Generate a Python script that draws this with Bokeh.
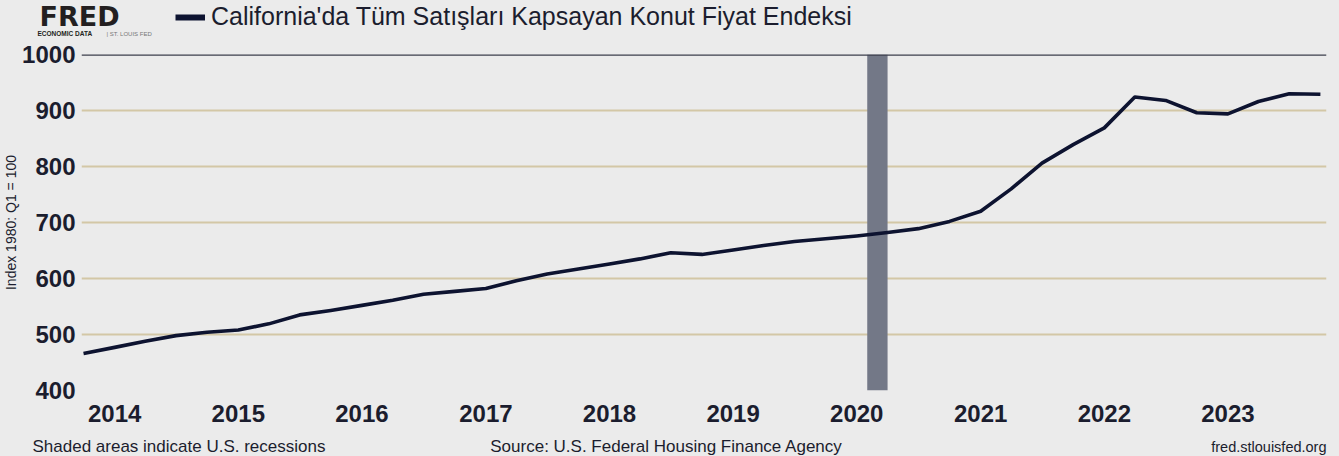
import pandas as pd
from bokeh.plotting import figure
from bokeh.layouts import column
from bokeh.models import (Range1d, FixedTicker, DatetimeTickFormatter, BoxAnnotation,
                          Span, Legend, LegendItem, ColumnDataSource)
from bokeh.core.properties import value
from bokeh.embed import file_html
from bokeh.resources import INLINE

# ---------------- data ----------------
quarters = pd.date_range("2013-10-01", "2023-10-01", freq="QS")
hpi = [466, 477, 488, 498, 504, 508, 519, 535, 543, 552,
       561, 572, 577, 582, 596, 608, 617, 626, 635, 646,
       643, 651, 659, 666, 671, 676, 682, 689, 702, 720,
       760, 806, 839, 869, 924, 918, 896, 894, 916, 930, 929]
year_ticks = [2014, 2015, 2016, 2017, 2018, 2019, 2020, 2021, 2022, 2023]
y_ticks = [400, 500, 600, 700, 800, 900, 1000]
recession_start = ["2020-02-01"]
recession_end = ["2020-04-01"]

series_name = "California'da Tüm Satışları Kapsayan Konut Fiyat Endeksi"
y_label = "Index 1980: Q1 = 100"
note_left = "Shaded areas indicate U.S. recessions"
note_mid = "Source: U.S. Federal Housing Finance Agency"
note_right = "fred.stlouisfed.org"

# ---------------- styles ----------------
BG = "#ebebeb"
LINE = "#0d1330"
TXT = "#1b1d2e"
FONT = "Liberation Sans"
W = 1339
HEAD_H, MAIN_H, FOOT_H = 40, 392, 24


def ms(s):
    return pd.Timestamp(s).value / 1e6


def text_panel(h):
    f = figure(width=W, height=h, output_backend="svg", toolbar_location=None, title=None,
               x_range=Range1d(0, W), y_range=Range1d(h, 0),
               x_axis_location=None, y_axis_location=None,
               min_border_left=0, min_border_right=0, min_border_top=0, min_border_bottom=0,
               background_fill_color=BG, border_fill_color=BG)
    f.outline_line_color = None
    f.grid.visible = False
    f.frame_align = False
    return f


def put(f, text, x, y, size, color=TXT, align="left", style="normal", font=FONT):
    f.text(x=[x], y=[y], text=[text], text_font=value(font), text_font_size=size,
           text_color=color, text_align=align, text_font_style=style,
           text_baseline="alphabetic")


# ---------------- header ----------------
head = text_panel(HEAD_H)
put(head, "FRED", 39, 16, "27px", color="#231f20", style="bold", font="DejaVu Sans")
put(head, "ECONOMIC DATA", 37, 33, "6.5px", color="#231f20", style="bold")
put(head, "|   ST. LOUIS FED", 106, 33, "6px", color="#777777")
dummy = head.line(x=[float("nan")], y=[float("nan")], line_color=LINE, line_width=6)
legend = Legend(items=[LegendItem(label=series_name, renderers=[dummy])],
                location=(175, 9), orientation="horizontal",
                padding=0, margin=0, spacing=0, glyph_width=30, glyph_height=20,
                label_standoff=6, label_text_font=FONT, label_text_font_size="25px",
                label_text_color=TXT, border_line_alpha=0, background_fill_alpha=0)
head.add_layout(legend)

# ---------------- main chart ----------------
p = figure(width=W, height=MAIN_H, output_backend="svg", toolbar_location=None, title=None,
           x_axis_type="datetime",
           x_range=Range1d(ms("2013-09-25"), ms("2023-10-19")),
           y_range=Range1d(400, 1000),
           min_border_left=78, min_border_right=13, min_border_top=14, min_border_bottom=42,
           background_fill_color=BG, border_fill_color=BG)
p.outline_line_color = None
p.frame_align = False

for s, e in zip(recession_start, recession_end):
    p.add_layout(BoxAnnotation(left=ms(s), right=ms(e), fill_color="#737887",
                               fill_alpha=1.0, line_color=None, level="underlay"))

src = ColumnDataSource(dict(x=quarters, y=hpi))
p.line("x", "y", source=src, line_color=LINE, line_width=3.6, line_join="round")

p.add_layout(Span(location=1000, dimension="width", line_color="#3d3f4c", line_width=2.5))

p.xgrid.grid_line_color = None
p.ygrid.grid_line_color = "#d3c7a6"
p.ygrid.grid_line_width = 2
p.ygrid.ticker = FixedTicker(ticks=y_ticks)

p.yaxis.ticker = FixedTicker(ticks=y_ticks)
p.xaxis.ticker = FixedTicker(ticks=[ms(f"{y}-01-01") for y in year_ticks])
p.xaxis.formatter = DatetimeTickFormatter(years="%Y", months="%Y", days="%Y",
                                          hours="%Y", minutes="%Y", seconds="%Y",
                                          milliseconds="%Y", microseconds="%Y")
for ax in (p.xaxis, p.yaxis):
    ax.axis_line_color = None
    ax.major_tick_line_color = None
    ax.minor_tick_line_color = None
    ax.major_tick_out = 0
    ax.major_tick_in = 0
    ax.major_label_text_font = FONT
    ax.major_label_text_font_size = "24px"
    ax.major_label_text_font_style = "bold"
    ax.major_label_text_color = TXT
p.yaxis.major_label_standoff = 6
p.xaxis.major_label_standoff = 14
p.yaxis.axis_label = y_label
p.yaxis.axis_label_text_font = FONT
p.yaxis.axis_label_text_font_size = "14px"
p.yaxis.axis_label_text_font_style = "normal"
p.yaxis.axis_label_text_color = TXT
p.yaxis.axis_label_standoff = 0

# ---------------- footer ----------------
foot = text_panel(FOOT_H)
put(foot, note_left, 32, 14, "17px")
put(foot, note_mid, 666, 14, "17px", align="center")
put(foot, note_right, 1326, 14, "14.5px", align="right")

layout = column(head, p, foot, spacing=0, styles={"background-color": BG})
open("out.html", "w").write(file_html(layout, INLINE))
